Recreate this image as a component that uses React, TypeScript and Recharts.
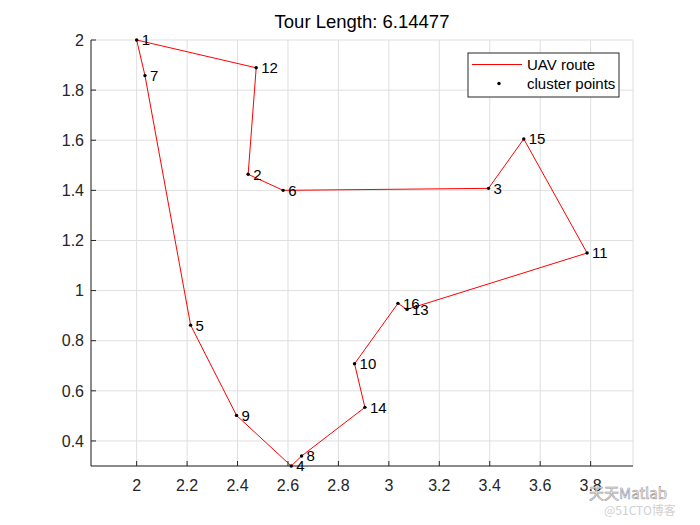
import React from "react";
import {
  ScatterChart, Scatter, XAxis, YAxis, CartesianGrid,
} from "recharts";

const FONT = '"Liberation Sans", Arial, Helvetica, sans-serif';
const AXIS_COLOR = "#262626";

// cluster points, indexed by id - 1
const pointIds = [1, 2, 3, 4, 5, 6, 7, 8, 9, 10, 11, 12, 13, 14, 15, 16];
const pointX = [2.0, 2.442, 3.395, 2.613, 2.214, 2.581, 2.033, 2.654, 2.396, 2.864, 3.786, 2.474, 3.072, 2.905, 3.535, 3.036];
const pointY = [2.0, 1.464, 1.408, 0.3, 0.862, 1.4, 1.858, 0.34, 0.502, 0.708, 1.15, 1.889, 0.925, 0.534, 1.605, 0.949];

// visiting order of the UAV (closed loop)
const tourOrder = [1, 12, 2, 6, 3, 15, 11, 13, 16, 10, 14, 8, 4, 9, 5, 7, 1];

const xTicks = [2, 2.2, 2.4, 2.6, 2.8, 3, 3.2, 3.4, 3.6, 3.8];
const yTicks = [0.4, 0.6, 0.8, 1, 1.2, 1.4, 1.6, 1.8, 2];
const xDomain = [1.819, 3.968];
const yDomain = [0.3, 2];

const title = "Tour Length: 6.14477";
const legendLabels = ["UAV route", "cluster points"];

const points = pointIds.map((id, i) => ({ id, x: pointX[i], y: pointY[i] }));
const route = tourOrder.map((id) => ({ id, x: pointX[id - 1], y: pointY[id - 1] }));

const fmt = (v: number) => String(Number(v.toFixed(1)));

const PointShape = (props: any) => {
  const { cx, cy, payload } = props;
  return (
    <g>
      <circle cx={cx} cy={cy} r={1.7} fill="#000" />
      <text
        x={cx + 5}
        y={cy + 1.5}
        dominantBaseline="middle"
        fontSize={15}
        fontFamily={FONT}
        fill="#000"
      >
        {payload.id}
      </text>
    </g>
  );
};

// MATLAB-style legend box, drawn over the chart
const LegendBox = () => (
  <svg
    width={153}
    height={46}
    style={{ position: "absolute", left: 467, top: 52 }}
  >
    <rect x={1} y={1} width={151} height={44} fill="#fff" stroke={AXIS_COLOR} strokeWidth={1} />
    <line x1={5} y1={12.5} x2={55} y2={12.5} stroke="#ff0000" strokeWidth={1} />
    <circle cx={32} cy={31.5} r={1.7} fill="#000" />
    <text x={60} y={14} dominantBaseline="middle" fontSize={15} fontFamily={FONT}>{legendLabels[0]}</text>
    <text x={60} y={33} dominantBaseline="middle" fontSize={15} fontFamily={FONT}>{legendLabels[1]}</text>
  </svg>
);

export default function App() {
  return (
    <div style={{ position: "absolute", left: 0, top: 0, width: 700, height: 525, background: "#fff" }}>
      <ScatterChart width={700} height={525} margin={{ top: 40, right: 67, bottom: 0, left: 0 }}>
        <CartesianGrid stroke="#dfdfdf" strokeWidth={1} />
        <XAxis
          type="number"
          dataKey="x"
          domain={xDomain}
          ticks={xTicks}
          interval={0}
          height={59}
          tickSize={-5}
          tickMargin={19}
          tickFormatter={fmt}
          axisLine={{ stroke: AXIS_COLOR }}
          tickLine={{ stroke: AXIS_COLOR }}
          tick={{ fill: AXIS_COLOR, fontSize: 16, fontFamily: FONT }}
        />
        <XAxis
          xAxisId="top"
          orientation="top"
          type="number"
          dataKey="x"
          domain={xDomain}
          ticks={xTicks}
          interval={0}
          height={0}
          tickSize={-5}
          tick={false}
          axisLine={{ stroke: AXIS_COLOR }}
          tickLine={{ stroke: AXIS_COLOR }}
        />
        <YAxis
          type="number"
          dataKey="y"
          domain={yDomain}
          ticks={yTicks}
          interval={0}
          width={91}
          tickSize={-5}
          tickMargin={12}
          tickFormatter={fmt}
          axisLine={{ stroke: AXIS_COLOR }}
          tickLine={{ stroke: AXIS_COLOR }}
          tick={{ fill: AXIS_COLOR, fontSize: 16, fontFamily: FONT }}
        />
        <YAxis
          yAxisId="right"
          orientation="right"
          type="number"
          dataKey="y"
          domain={yDomain}
          ticks={yTicks}
          interval={0}
          width={0}
          tickSize={-5}
          tick={false}
          axisLine={{ stroke: AXIS_COLOR }}
          tickLine={{ stroke: AXIS_COLOR }}
        />
        <Scatter
          name="UAV route"
          data={route}
          line={{ stroke: "#ff0000", strokeWidth: 1 }}
          shape={() => <g />}
          legendType="none"
          isAnimationActive={false}
        />
        <Scatter
          name="cluster points"
          data={points}
          shape={PointShape}
          isAnimationActive={false}
        />
      </ScatterChart>
      <div
        style={{
          position: "absolute", left: 91, width: 542, top: 12, lineHeight: "20px",
          textAlign: "center", fontFamily: FONT, fontSize: 18.5, color: "#000",
        }}
      >
        {title}
      </div>
      <LegendBox />
      <div
        style={{
          position: "absolute", left: 589, top: 485, lineHeight: "15px", fontFamily: '"Noto Sans CJK SC", sans-serif',
          fontSize: 15, color: "#fff", WebkitTextStroke: "0.6px #9a9a9a", whiteSpace: "nowrap",
        }}
      >
        天天Matlab
      </div>
      <div
        style={{
          position: "absolute", left: 604, top: 504, lineHeight: "12px", fontFamily: '"Noto Sans CJK SC", sans-serif',
          fontSize: 12, color: "#d0d0d0", whiteSpace: "nowrap",
        }}
      >
        @51CTO博客
      </div>
    </div>
  );
}
